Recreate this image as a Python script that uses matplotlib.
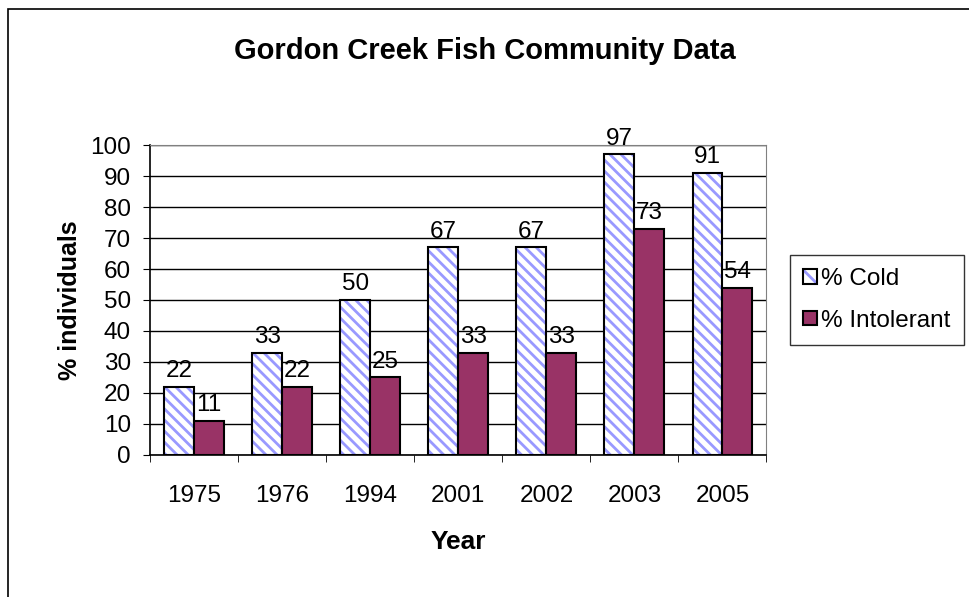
import matplotlib.pyplot as plt
import matplotlib.patches as mpatches
import numpy as np

plt.rcParams['font.family'] = ['Liberation Sans', 'DejaVu Sans']
plt.rcParams['hatch.linewidth'] = 2.0

years = ['1975', '1976', '1994', '2001', '2002', '2003', '2005']
cold = [22, 33, 50, 67, 67, 97, 91]
intolerant = [11, 22, 25, 33, 33, 73, 54]

cold_hatch = '#9999ff'
intol_color = '#993366'

fig = plt.figure(figsize=(9.69, 5.97), dpi=100)
ax = fig.add_axes([0.155, 0.238, 0.636, 0.519])

# outer chart border
fig.patches.append(mpatches.Rectangle((0.008, -0.01), 1.1, 0.995, transform=fig.transFigure,
                                      fill=False, edgecolor='black', linewidth=1.2))

x = np.arange(len(years))
w = 0.34
# hatch layer (hatch takes the edge colour) then black outline on top
ax.bar(x - w / 2, cold, w, color='white', edgecolor=cold_hatch, hatch='\\\\\\',
       linewidth=0, zorder=3)
b1 = ax.bar(x - w / 2, cold, w, fill=False, edgecolor='black', linewidth=1.5, zorder=3)
b2 = ax.bar(x + w / 2, intolerant, w, color=intol_color, edgecolor='black',
            linewidth=1.5, zorder=3)

for bars in (b1, b2):
    for r in bars:
        ax.text(r.get_x() + r.get_width() / 2, r.get_height() + 1.5, f'{int(r.get_height())}',
                ha='center', va='bottom', fontsize=17.5, zorder=4)

ax.set_xlim(-0.5, len(years) - 0.5)
ax.set_ylim(0, 100)
ax.set_yticks(range(0, 101, 10))
ax.set_xticks(x)
ax.set_xticklabels(years)
ax.set_xticks(np.arange(-0.5, len(years)), minor=True)
ax.tick_params(axis='x', which='major', length=0, pad=22, labelsize=17.5)
ax.tick_params(axis='x', which='minor', length=5, direction='out')
ax.tick_params(axis='y', length=5, direction='out', labelsize=17.5, pad=9)
ax.yaxis.grid(True, color='black', linewidth=1.0, zorder=0)
ax.set_axisbelow(True)
for s in ['top', 'right']:
    ax.spines[s].set_color('#808080')
ax.spines['left'].set_linewidth(1.2)
ax.spines['bottom'].set_linewidth(1.2)

ax.set_xlabel('Year', fontsize=19, fontweight='bold', labelpad=16)
ax.set_ylabel('% individuals', fontsize=18, fontweight='bold', labelpad=6)
fig.text(0.5, 0.915, 'Gordon Creek Fish Community Data', ha='center', va='center',
         fontsize=21, fontweight='bold')

handles = [mpatches.Patch(facecolor='white', edgecolor=cold_hatch, hatch='\\\\', linewidth=0),
           mpatches.Patch(facecolor=intol_color, edgecolor='black', linewidth=1.5)]
h_cold = (handles[0], mpatches.Patch(fill=False, edgecolor='black', linewidth=1.5))
leg = ax.legend([h_cold, handles[1]], ['% Cold', '% Intolerant'],
                loc='center left', bbox_to_anchor=(1.038, 0.5), fontsize=17.5, frameon=True,
                fancybox=False, edgecolor='black', handlelength=0.55, handleheight=0.55,
                handletextpad=0.2, labelspacing=0.8, borderpad=0.55, borderaxespad=0)
leg.get_frame().set_linewidth(1.0)

fig.savefig('out.png', dpi=100)
